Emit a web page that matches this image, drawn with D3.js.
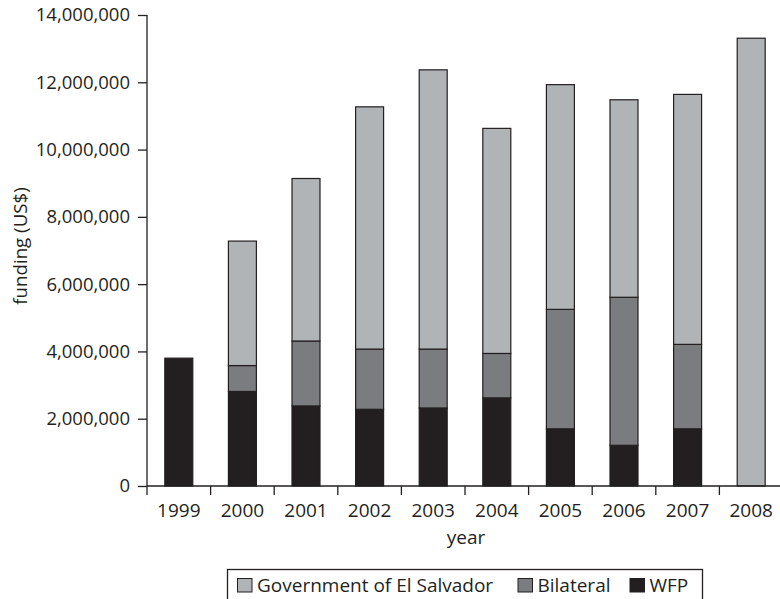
<!DOCTYPE html>
<html><head><meta charset="utf-8">
<script src="https://cdn.jsdelivr.net/npm/d3@7"></script>
<style>body{margin:0;background:#fff}svg{display:block}text{font-family:"Open Sans",sans-serif;fill:#231f20}</style>
</head><body><svg id="c" width="780" height="599"></svg>
<script>
const years = ["1999","2000","2001","2002","2003","2004","2005","2006","2007","2008"];
const wfp = [3800000, 2810000, 2380000, 2280000, 2320000, 2620000, 1700000, 1210000, 1700000, 0];
const bilateral = [0, 770000, 1930000, 1790000, 1750000, 1320000, 3550000, 4400000, 2510000, 0];
const government = [0, 3700000, 4830000, 7200000, 8300000, 6690000, 6680000, 5870000, 7430000, 13310000];
const seriesNames = ["WFP", "Bilateral", "Government of El Salvador"];
const legendOrder = ["Government of El Salvador", "Bilateral", "WFP"];
const yTicks = [0, 2000000, 4000000, 6000000, 8000000, 10000000, 12000000, 14000000];
const colors = {"WFP":"#231f20","Bilateral":"#7b7c7f","Government of El Salvador":"#b1b4b6"};

const svg = d3.select("#c");
const x0 = 147, x1 = 783, yTop = 15, yBot = 486;
const x = d3.scaleBand().domain(years).range([x0, x1]).paddingInner(0.56).paddingOuter(0.28);
const y = d3.scaleLinear().domain([0, 14000000]).range([yBot, yTop]);

const rows = years.map((yr, i) => ({year: yr, "WFP": wfp[i], "Bilateral": bilateral[i], "Government of El Salvador": government[i]}));
const stack = d3.stack().keys(seriesNames)(rows);

// y axis
const ya = svg.append("g").attr("transform", `translate(${x0},0)`)
  .call(d3.axisLeft(y).tickValues(yTicks).tickFormat(d3.format(",")).tickSize(9).tickPadding(8));
ya.select(".domain").attr("stroke","#231f20").attr("stroke-width",1.3).attr("d", `M0,${yTop}V${yBot}`);
ya.selectAll(".tick line").attr("stroke","#231f20").attr("stroke-width",1.3);
ya.selectAll(".tick text").style("font-size","18.5px").style("font-family","'Open Sans',sans-serif").attr("fill","#231f20");

// bars
stack.forEach(s => {
  svg.append("g").selectAll("rect").data(s.filter(d => d[1] - d[0] > 0)).join("rect")
    .attr("x", d => x(d.data.year))
    .attr("width", x.bandwidth())
    .attr("y", d => y(d[1]))
    .attr("height", d => y(d[0]) - y(d[1]))
    .attr("fill", colors[s.key])
    .attr("stroke", "#231f20").attr("stroke-width", 1.2);
});

// x axis
const step = x.step();
svg.append("line").attr("x1", x0).attr("x2", 780).attr("y1", yBot).attr("y2", yBot)
  .attr("stroke","#231f20").attr("stroke-width",1.3);
svg.append("g").selectAll("line").data(years).join("line")
  .attr("x1", (d,i) => x0 + i*step).attr("x2", (d,i) => x0 + i*step)
  .attr("y1", yBot).attr("y2", yBot + 9)
  .attr("stroke","#231f20").attr("stroke-width",1.3);
svg.append("g").selectAll("text").data(years).join("text")
  .attr("x", d => x(d) + x.bandwidth()/2).attr("y", 517)
  .attr("text-anchor","middle").style("font-size","19px").text(d => d);

svg.append("text").attr("x", 466).attr("y", 544).attr("text-anchor","middle").style("font-size","19px").text("year");
svg.append("text").attr("transform","translate(27,246) rotate(-90)").attr("text-anchor","middle").style("font-size","18.7px").text("funding (US$)");

// legend
const lg = svg.append("g");
lg.append("rect").attr("x",227.5).attr("y",569.5).attr("width",475).attr("height",34).attr("fill","#fff").attr("stroke","#231f20").attr("stroke-width",1.3);
const lx = [237, 517.5, 629.5];
legendOrder.forEach((k,i) => {
  lg.append("rect").attr("x", lx[i]+0.5).attr("y", 578.5).attr("width", 14.5).attr("height", 13.5).attr("fill", colors[k]).attr("stroke","#231f20").attr("stroke-width",1);
  lg.append("text").attr("x", lx[i]+20).attr("y", 592).style("font-size","19px").text(k);
});
</script></body></html>
